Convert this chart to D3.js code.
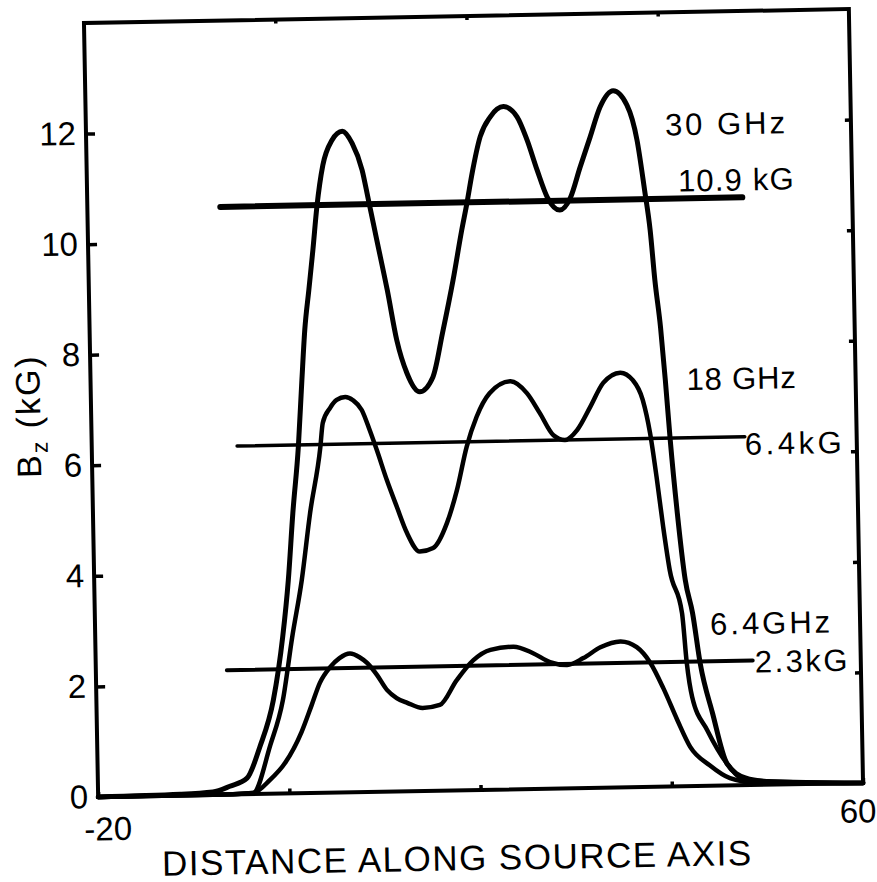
<!DOCTYPE html>
<html><head><meta charset="utf-8">
<script src="https://cdn.jsdelivr.net/npm/d3@7"></script>
<style>body{margin:0;background:#fff}</style>
</head><body><svg id="c" width="877" height="882"></svg>
<script>
// ---------- data ----------
const xDomain = [-20, 60];
const yDomain = [0, 14];
const xTickValues = [-20, 0, 20, 40, 60];
const xTickLabels = ["-20", "", "", "", "60"];
const yTickValues = [0, 2, 4, 6, 8, 10, 12];
const yTickLabels = ["0", "2", "4", "6", "8", "10", "12"];
const rightTickValues = [2, 4, 6, 8, 10, 12];

// 30 GHz
const x30 = [-20, -11.4, -8.0, -6.2, -4.4, -3.0, -1.5, -0.4, 0.3, 0.9, 1.6, 2.1, 2.5, 3.0, 3.5, 4.0, 4.7, 5.7, 6.8, 7.8, 8.8, 9.4, 10.2, 11.2, 12.1, 13.1, 14.4, 15.8, 16.9, 18.1, 19.1, 19.7, 20.3, 21.2, 22.3, 23.7, 25.1, 26.1, 27.1, 28.1, 29.4, 30.5, 31.6, 32.7, 33.8, 35.2, 36.6, 37.6, 38.3, 38.8, 39.2, 39.7, 40.1, 40.5, 41.1, 41.8, 42.5, 43.2, 44.4, 45.8, 47.7, 50.3, 60];
const b30 = [0, 0.02, 0.05, 0.15, 0.29, 0.85, 1.69, 2.83, 3.86, 5.07, 6.26, 7.47, 8.38, 9.10, 9.82, 10.60, 11.35, 11.80, 11.96, 11.74, 11.25, 10.71, 9.98, 9.07, 8.16, 7.56, 7.22, 7.48, 8.28, 9.23, 10.13, 10.62, 11.16, 11.81, 12.17, 12.35, 12.16, 11.74, 11.19, 10.70, 10.46, 10.67, 11.23, 11.77, 12.31, 12.60, 12.34, 11.70, 10.79, 10.07, 9.16, 8.31, 7.35, 6.26, 4.94, 3.73, 3.13, 2.22, 1.31, 0.40, 0.13, 0.05, 0];

// 18 GHz
const x18 = [-20, -8.0, -3.8, -1.9, -0.5, 0.6, 1.7, 2.7, 3.9, 4.2, 5.0, 5.7, 6.6, 7.4, 8.3, 9.1, 9.8, 10.8, 11.8, 12.8, 14.1, 15.5, 17.0, 18.1, 19.2, 20.3, 21.7, 23.9, 25.6, 26.9, 28.3, 29.5, 30.8, 32.2, 33.6, 35.4, 36.7, 37.7, 38.4, 39.0, 39.6, 40.2, 41.4, 41.8, 42.3, 43.8, 45.8, 47.7, 60];
const b18 = [0, 0, 0.02, 0.88, 1.69, 2.83, 3.85, 5.06, 6.25, 6.69, 6.96, 7.10, 7.15, 7.09, 6.91, 6.54, 6.18, 5.63, 5.14, 4.67, 4.33, 4.39, 4.84, 5.43, 6.21, 6.75, 7.17, 7.38, 7.16, 6.80, 6.39, 6.30, 6.48, 6.89, 7.32, 7.50, 7.36, 7.00, 6.40, 5.60, 4.69, 3.91, 3.13, 2.23, 1.61, 1.01, 0.40, 0.09, 0];

// 6.4 GHz
const x64 = [-20, -8.0, -3.8, -2.0, -0.4, 1.4, 2.5, 3.4, 4.5, 5.5, 6.6, 7.6, 8.4, 9.4, 10.4, 11.4, 12.5, 14.1, 15.9, 17.7, 19.5, 21.3, 23.7, 25.7, 27.5, 29.3, 31.0, 32.8, 34.9, 36.6, 38.0, 39.3, 40.7, 42.0, 44.0, 46.1, 49.2, 60];
const b64 = [0, 0, 0.02, 0.25, 0.55, 1.11, 1.59, 1.99, 2.27, 2.43, 2.51, 2.44, 2.33, 2.11, 1.84, 1.69, 1.60, 1.50, 1.55, 1.99, 2.35, 2.53, 2.58, 2.46, 2.29, 2.23, 2.35, 2.54, 2.64, 2.53, 2.24, 1.78, 1.20, 0.71, 0.37, 0.13, 0.03, 0];

// resonance field lines
const frequencyLabels = ["30 GHz", "18 GHz", "6.4GHz"];
const resonanceLabels = ["10.9 kG", "6.4kG", "2.3kG"];
const resonanceLevel = [10.63, 6.30, 2.25];
const resonanceStart = [-6.1, -4.8, -6.3];
const resonanceEnd = [48.5, 48.3, 48.7];

const xTitle = "DISTANCE ALONG SOURCE AXIS";

// ---------- layout ----------
const L = 91, R = 856, T = 16, B = 790;
const FONT = "'Liberation Sans', Arial, sans-serif";

const svg = d3.select("#c");
const g = svg.append("g").attr("transform", "rotate(-1.05, 473, 403)");

const x = d3.scaleLinear().domain(xDomain).range([L, R]);
const y = d3.scaleLinear().domain(yDomain).range([B, T]);

// frame
g.append("rect").attr("x", L).attr("y", T).attr("width", R - L).attr("height", B - T)
  .attr("fill", "none").attr("stroke", "#000").attr("stroke-width", 4);

function styleAxis(sel) {
  sel.select(".domain").remove();
  sel.selectAll(".tick line").attr("stroke", "#000").attr("stroke-width", 3.5);
  sel.selectAll(".tick text").attr("fill", "#000").style("font-family", FONT);
}

// left axis
const yAx = g.append("g").attr("transform", `translate(${L},0)`)
  .call(d3.axisLeft(y).tickValues(yTickValues).tickSize(-9).tickPadding(10)
    .tickFormat((d, i) => yTickLabels[i]));
styleAxis(yAx);
yAx.selectAll(".tick text").style("font-size", "33px");

// right axis ticks
const rAx = g.append("g").attr("transform", `translate(${R},0)`)
  .call(d3.axisRight(y).tickValues(rightTickValues).tickSize(-6).tickFormat(""));
styleAxis(rAx);

// top ticks
const tAx = g.append("g").attr("transform", `translate(0,${T})`)
  .call(d3.axisTop(x).tickValues([0, 20, 40]).tickSize(-4).tickFormat(""));
styleAxis(tAx);

// bottom axis
const bAx = g.append("g").attr("transform", `translate(0,${B})`)
  .call(d3.axisBottom(x).tickValues(xTickValues).tickSize(-5).tickPadding(16)
    .tickFormat((d, i) => xTickLabels[i]));
styleAxis(bAx);
bAx.selectAll(".tick text").style("font-size", "33px")
  .attr("dx", d => d === -20 ? 9 : (d === 60 ? -6 : 0))
  .attr("y", d => d === -20 ? 20 : 16);

// curves
const line = d3.line().x(d => x(d[0])).y(d => y(d[1])).curve(d3.curveMonotoneX);
const series = [
  { xs: x30, ys: b30, w: 5 },
  { xs: x18, ys: b18, w: 4.5 },
  { xs: x64, ys: b64, w: 4.5 }
];
series.forEach(s => {
  g.append("path").datum(s.xs.map((v, i) => [v, s.ys[i]]))
    .attr("d", line).attr("fill", "none").attr("stroke", "#000")
    .attr("stroke-width", s.w).attr("stroke-linejoin", "round").attr("stroke-linecap", "round");
});

// resonance lines
const refW = [6, 3.5, 4];
resonanceLevel.forEach((lv, i) => {
  g.append("line")
    .attr("x1", x(resonanceStart[i])).attr("x2", x(resonanceEnd[i]))
    .attr("y1", y(lv)).attr("y2", y(lv))
    .attr("stroke", "#000").attr("stroke-width", refW[i]).attr("stroke-linecap", "round");
});

// annotations
const annFont = 31;
const fieldPos = [[682 - x(resonanceEnd[0]), -7], [0, 18], [2, 12]];
const fieldLS = [1.2, 3.5, 2.5];
resonanceLabels.forEach((t, i) => {
  g.append("text").attr("x", x(resonanceEnd[i]) + fieldPos[i][0]).attr("y", y(resonanceLevel[i]) + fieldPos[i][1])
    .text(t).style("font-family", FONT).style("font-size", annFont + "px").attr("fill", "#000")
    .style("letter-spacing", fieldLS[i] + "px").style("white-space", "pre");
});
const freqPos = [[670, 139], [687, 394], [706, 639]];
const freqLS = [3, 0.8, 3];
frequencyLabels.forEach((t, i) => {
  g.append("text").attr("x", freqPos[i][0]).attr("y", freqPos[i][1])
    .text(t).style("font-family", FONT).style("font-size", annFont + "px").attr("fill", "#000")
    .style("letter-spacing", freqLS[i] + "px").style("white-space", "pre");
});

// y title
const yt = g.append("text").attr("transform", "translate(40,408) rotate(-90)")
  .attr("text-anchor", "middle").style("font-family", FONT).style("font-size", "34px")
  .style("letter-spacing", "2px").attr("fill", "#000");
yt.append("tspan").text("B");
yt.append("tspan").text("z").style("font-size", "23px").attr("dy", 7);
yt.append("tspan").text("\u00a0(kG)").attr("dy", -7);

// x title
g.append("text").attr("x", 449).attr("y", 870).attr("text-anchor", "middle")
  .style("font-family", FONT).style("font-size", "35px").style("letter-spacing", "1.5px")
  .attr("fill", "#000").text(xTitle);
</script></body></html>
